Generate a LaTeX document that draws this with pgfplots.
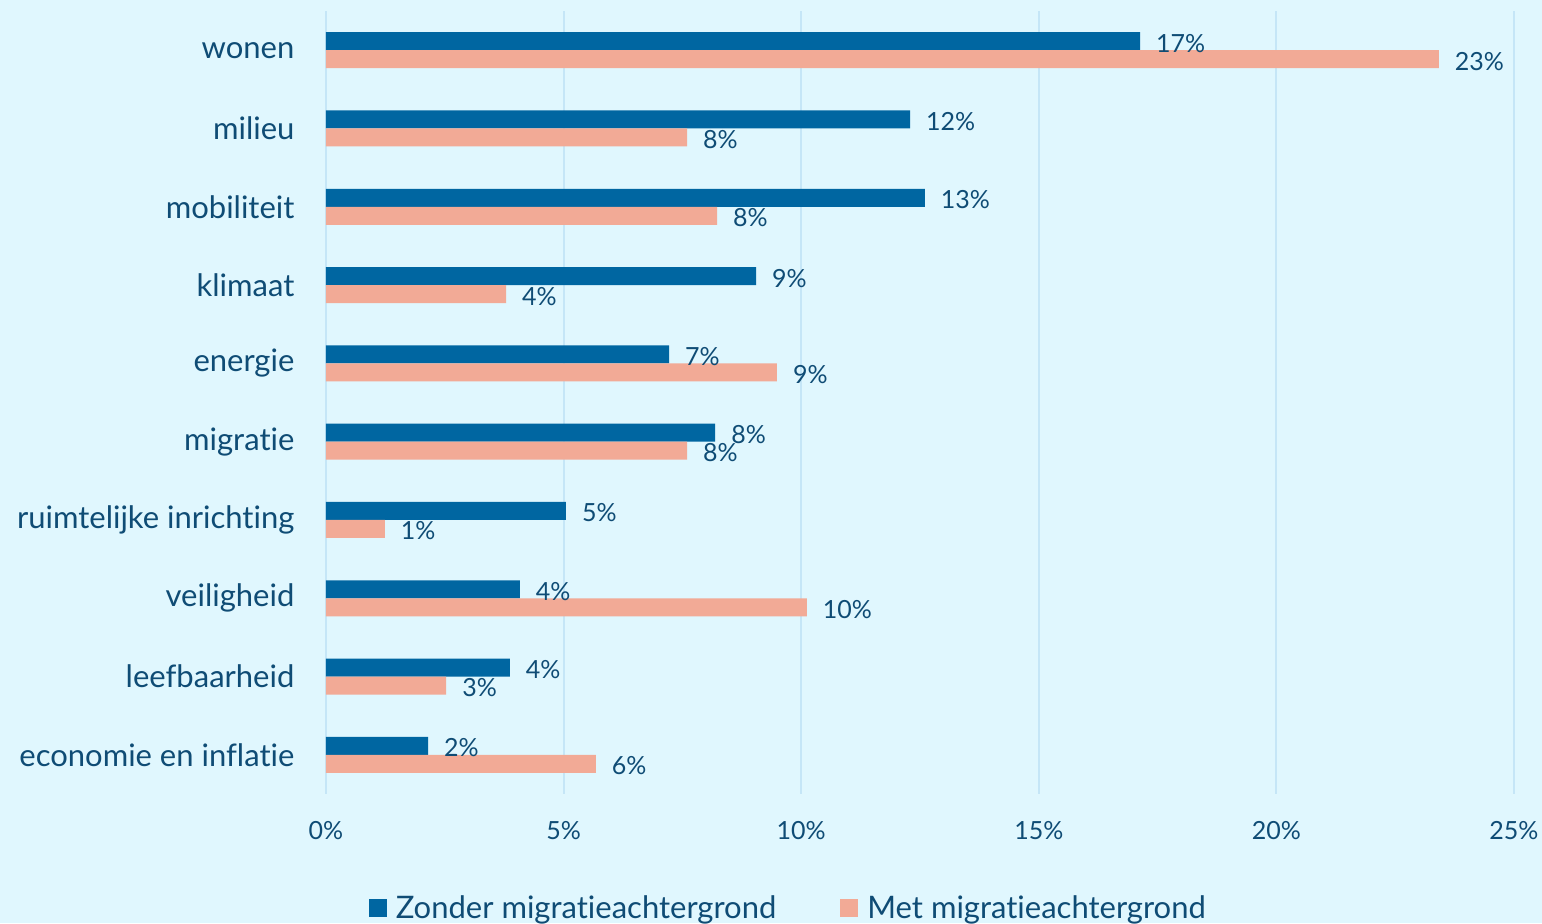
\documentclass[border=0pt]{standalone}
\usepackage{pgfplots}
\pgfplotsset{compat=1.18}
\usepackage{fontspec}
\setmainfont[Ligatures={NoCommon,NoDiscretionary,NoRare}]{Lato}
\definecolor{bg}{HTML}{E0F7FE}
\definecolor{darkbar}{HTML}{0066A1}
\definecolor{salmon}{HTML}{F2AA96}
\definecolor{gridc}{HTML}{C5E6F7}
\definecolor{txt}{HTML}{0F4C75}
\begin{document}
\begin{tikzpicture}
\fill[bg] (-163pt,-64.5pt) rectangle (608pt,397pt);
\begin{axis}[
  at={(0pt,0pt)}, anchor=south west,
  scale only axis,
  width=594pt, height=391.5pt,
  xmin=0, xmax=25,
  ymin=-0.5, ymax=9.5,
  y dir=reverse,
  xbar=0pt,
  bar width=9pt,
  axis line style={draw=none},
  tick style={draw=none},
  xtick={0,5,10,15,20,25},
  xmajorgrids,
  grid style={gridc, line width=1pt},
  ytick={0,...,9},
  yticklabels={wonen,milieu,mobiliteit,klimaat,energie,migratie,ruimtelijke inrichting,veiligheid,leefbaarheid,economie en inflatie},
  yticklabel style={font=\fontsize{15.5}{18}\selectfont, text=txt, xshift=-8pt},
  xticklabel={\pgfmathprintnumber{\tick}\%},
  xticklabel style={font=\fontsize{12.5}{15}\selectfont, text=txt, yshift=-10pt},
  /pgf/number format/assume math mode=true,
  nodes near coords={\pgfmathprintnumber[fixed,precision=0]{\pgfplotspointmeta}\%},
  nodes near coords style={font=\fontsize{12.5}{15}\selectfont, text=txt, anchor=west, xshift=4.5pt, yshift=-1pt},
  legend style={at={(0.39,-0.146)}, anchor=center, draw=none, fill=none,
    legend columns=2, font=\fontsize{15.5}{18}\selectfont, text=txt,
    /tikz/every odd column/.append style={column sep=2.5pt},
    /tikz/every even column/.append style={column sep=30pt}},
  legend image code/.code={\fill[#1,draw=none] (0pt,-4.5pt) rectangle (9pt,4.5pt);},
]
\addplot[fill=darkbar, draw=none, bar shift=4.5pt] coordinates {
 (17.13,0) (12.29,1) (12.60,2) (9.05,3) (7.22,4) (8.19,5) (5.05,6) (4.08,7) (3.87,8) (2.15,9)};
\addplot[fill=salmon, draw=none, bar shift=-4.5pt] coordinates {
 (23.42,0) (7.60,1) (8.23,2) (3.79,3) (9.49,4) (7.60,5) (1.24,6) (10.12,7) (2.53,8) (5.68,9)};
\legend{Zonder migratieachtergrond, Met migratieachtergrond}
\end{axis}
\pgfresetboundingbox
\path[use as bounding box] (-163pt,-64.5pt) rectangle (608pt,397pt);
\end{tikzpicture}
\end{document}
